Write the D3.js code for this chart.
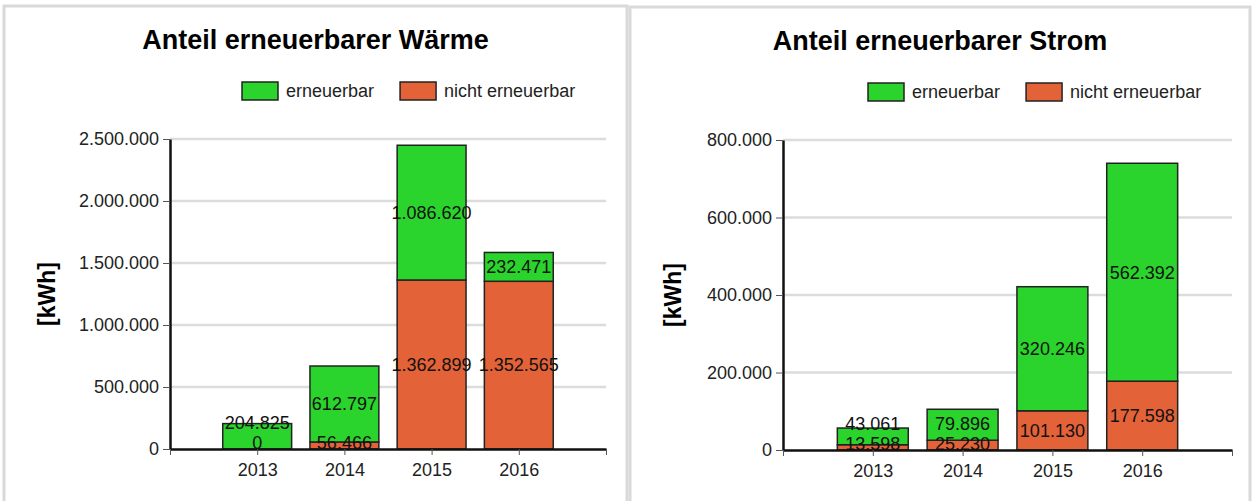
<!DOCTYPE html>
<html>
<head>
<meta charset="utf-8">
<script src="https://cdn.jsdelivr.net/npm/d3@7"></script>
<style>
    body { margin: 0; background: #fff; }
    text { font-family: "Liberation Sans", Arial, sans-serif; }
</style>
</head>
<body>
<div id="chart-area"></div>
<script>

// data
const years = ["2013", "2014", "2015", "2016"];
const seriesNames = ["erneuerbar", "nicht erneuerbar"];
const waermeErneuerbar = [204825, 612797, 1086620, 232471];
const waermeNicht = [0, 56466, 1362899, 1352565];
const stromErneuerbar = [43061, 79896, 320246, 562392];
const stromNicht = [13598, 25230, 101130, 177598];
const waermeTicks = [0, 500000, 1000000, 1500000, 2000000, 2500000];
const stromTicks = [0, 200000, 400000, 600000, 800000];

const colors = {"erneuerbar": "#2ad42c", "nicht erneuerbar": "#e46238"};

let de = d3.formatLocale({decimal: ",", thousands: ".", grouping: [3], currency: ["", " €"]});
let fmt = de.format(",d");

let svg = d3.select("#chart-area").append("svg")
    .attr("width", 1252)
    .attr("height", 501);

function drawChart(panel, title, erneuerbar, nicht, ticks) {
    let g = svg.append("g").attr("transform", `translate(${panel.x}, ${panel.y})`);

    // panel frame
    g.append("rect")
        .attr("x", 0).attr("y", 0)
        .attr("width", panel.w).attr("height", panel.h)
        .attr("fill", "#fff")
        .attr("stroke", "#d9d9d9")
        .attr("stroke-width", 3);

    g.append("text")
        .attr("x", panel.w / 2)
        .attr("y", 43)
        .attr("text-anchor", "middle")
        .style("font-size", "27px")
        .style("font-weight", "bold")
        .text(title);

    // legend
    let legend = g.append("g").attr("transform", `translate(${panel.legendX}, 76)`);
    let lx = 0;
    seriesNames.forEach(name => {
        legend.append("rect")
            .attr("x", lx).attr("y", 0)
            .attr("width", 36).attr("height", 18)
            .attr("fill", colors[name])
            .attr("stroke", "#222")
            .attr("stroke-width", 1.5);
        let t = legend.append("text")
            .attr("x", lx + 44).attr("y", 15)
            .style("font-size", "18px")
            .attr("fill", "#222")
            .text(name);
        lx += 44 + t.node().getComputedTextLength() + 26;
    });

    let left = panel.axisX, right = panel.axisEnd, top = 133, bottom = 443;

    let x = d3.scaleLinear().domain([0, years.length + 1]).range([left, right]);
    let y = d3.scaleLinear().domain([0, d3.max(ticks)]).range([bottom, top]);
    let bw = (x(1) - x(0)) * 0.79;

    // grid
    g.append("g").selectAll("line").data(ticks.slice(1)).enter().append("line")
        .attr("x1", left).attr("x2", right)
        .attr("y1", d => y(d)).attr("y2", d => y(d))
        .attr("stroke", "#dcdcdc")
        .attr("stroke-width", 2.5);

    // bars
    let rows = years.map((yr, i) => ({year: yr, i: i, "nicht erneuerbar": nicht[i], "erneuerbar": erneuerbar[i]}));
    let stack = d3.stack().keys(["nicht erneuerbar", "erneuerbar"])(rows);

    stack.forEach(layer => {
        g.append("g").selectAll("rect").data(layer).enter().append("rect")
            .attr("x", d => x(d.data.i + 1) - bw / 2)
            .attr("width", bw)
            .attr("y", d => y(d[1]))
            .attr("height", d => y(d[0]) - y(d[1]))
            .attr("fill", colors[layer.key])
            .attr("stroke", "#222")
            .attr("stroke-width", 1.5);
    });

    // value labels, centred in segment, pushed up when crowded
    rows.forEach((r, i) => {
        let lowerY = Math.min((y(0) + y(stack[0][i][1])) / 2, y(0) - 6);
        let upperY = (y(stack[1][i][0]) + y(stack[1][i][1])) / 2;
        if (lowerY - upperY < 20) upperY = lowerY - 20;
        [[lowerY, r["nicht erneuerbar"]], [upperY, r["erneuerbar"]]].forEach(p => {
            g.append("text")
                .attr("x", x(i + 1))
                .attr("y", p[0])
                .attr("dy", "0.35em")
                .attr("text-anchor", "middle")
                .style("font-size", "18px")
                .attr("fill", "#111")
                .text(fmt(p[1]));
        });
    });

    // axes
    let yAxis = d3.axisLeft(y).tickValues(ticks).tickFormat(fmt).tickSize(7).tickSizeOuter(0);
    let ya = g.append("g").attr("transform", `translate(${left}, 0)`).call(yAxis);
    ya.select(".domain").attr("stroke", "#111").attr("stroke-width", 2.5);
    ya.selectAll(".tick line").attr("stroke", "#555");
    ya.selectAll(".tick text").style("font-size", "18px").attr("fill", "#222").attr("x", -11);
    ya.selectAll("text").attr("font-family", null);

    let xAxis = d3.axisBottom(x).tickValues(d3.range(0, years.length + 2))
        .tickFormat(d => (d >= 1 && d <= years.length) ? years[d - 1] : "")
        .tickSize(6).tickSizeOuter(0);
    let xa = g.append("g").attr("transform", `translate(0, ${bottom})`).call(xAxis);
    xa.select(".domain").attr("stroke", "#111").attr("stroke-width", 2.5);
    xa.selectAll(".tick line").attr("stroke", "#555");
    xa.selectAll(".tick text").style("font-size", "18px").attr("fill", "#222").attr("y", 14);
    xa.selectAll("text").attr("font-family", null);

    // y label
    g.append("text")
        .attr("transform", `translate(${panel.labelX}, ${(top + bottom) / 2}) rotate(-90)`)
        .attr("text-anchor", "middle")
        .attr("dy", "0.35em")
        .style("font-size", "23px")
        .style("font-weight", "bold")
        .text("[kWh]");
}

drawChart({x: 4, y: 6, w: 623, h: 500, legendX: 238, axisX: 166, axisEnd: 602, labelX: 43},
    "Anteil erneuerbarer Wärme", waermeErneuerbar, waermeNicht, waermeTicks);
drawChart({x: 630, y: 7, w: 620, h: 500, legendX: 238, axisX: 153, axisEnd: 602, labelX: 43},
    "Anteil erneuerbarer Strom", stromErneuerbar, stromNicht, stromTicks);

</script>
</body>
</html>
